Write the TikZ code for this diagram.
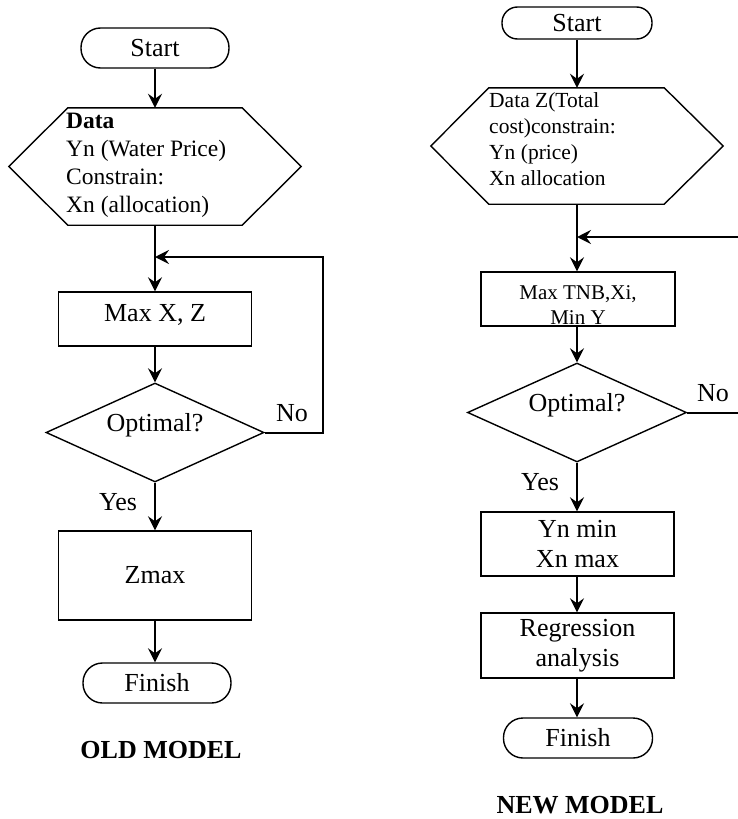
\documentclass[tikz,border=0pt]{standalone}
\usepackage{fontspec}
\setmainfont{Liberation Serif}
\usetikzlibrary{arrows.meta,shapes.geometric}
\begin{document}
\begin{tikzpicture}[x=1pt,y=-1pt,
  boxline/.style={draw,line width=1.4pt},
  box/.style={boxline,inner sep=0pt,align=center,font=\fontsize{26}{30}\selectfont},
  term/.style={box,rounded corners=19.5pt,minimum height=40pt},
  dia/.style={boxline,diamond,aspect=2.2,inner sep=0pt,minimum width=218pt,minimum height=99pt},
  txt/.style={inner sep=0pt,align=center,font=\fontsize{26}{30}\selectfont},
  arr/.style={line width=2pt,-{Stealth[length=14pt,width=14pt,inset=5pt]}}
]
\useasboundingbox (0,0) rectangle (738,819);
\clip (0,0) rectangle (738,819);

% ---------------- OLD MODEL ----------------
\node[term,minimum width=148pt] (start1) at (155,48) {Start};
\node[inner sep=0pt,minimum width=292pt,minimum height=117pt] (hex1) at (155,166.5) {};
\draw[boxline,line join=miter] ([xshift=59pt]hex1.north west) -- ([xshift=-59pt]hex1.north east) -- (hex1.east)
  -- ([xshift=-59pt]hex1.south east) -- ([xshift=59pt]hex1.south west) -- (hex1.west) -- cycle;
\node[anchor=west,inner sep=0pt,align=left,font=\fontsize{23.5}{28}\selectfont] (hex1t) at (66,165)
  {\textbf{Data}\\Yn (Water Price)\\Constrain:\\Xn (allocation)};
\coordinate (j1) at (155,257);
\node[box,minimum width=193pt,minimum height=54pt] (max1) at (155,319) {};
\node[txt] (max1t) at (155,315) {Max X, Z};
\node[dia] (dia1) at (155,432.5) {};
\node[txt] (dia1t) at (155,425) {Optimal?};
\node[txt] (no1) at (292,413) {No};
\node[txt] (yes1) at (118,502) {Yes};
\node[box,minimum width=193pt,minimum height=89pt] (zmax1) at (155,575.5) {Zmax};
\node[term,minimum width=148pt] (fin1) at (157,683) {Finish};
\node[txt,font=\fontsize{26}{30}\selectfont\bfseries] (old) at (161,750) {OLD MODEL};

\draw[arr] (start1) -- (hex1);
\draw[arr] (hex1) -- (max1);
\draw[arr] (max1) -- (dia1);
\draw[arr] (dia1.east) -- (323,432.5) |- (j1);
\draw[arr] (dia1) -- (zmax1);
\draw[arr] (zmax1.south) -- (zmax1.south |- fin1.north);

% ---------------- NEW MODEL ----------------
\node[term,minimum width=150pt,minimum height=32pt,rounded corners=15.5pt] (start2) at (577,23) {Start};
\node[inner sep=0pt,minimum width=292pt,minimum height=116pt] (hex2) at (577,146) {};
\draw[boxline,line join=miter] ([xshift=58pt]hex2.north west) -- ([xshift=-59pt]hex2.north east) -- (hex2.east)
  -- ([xshift=-59pt]hex2.south east) -- ([xshift=58pt]hex2.south west) -- (hex2.west) -- cycle;
\node[anchor=west,inner sep=0pt,align=left,font=\fontsize{21.5}{26}\selectfont] (hex2t) at (489,139.5)
  {Data Z(Total\\cost)constrain:\\Yn (price)\\Xn allocation};
\coordinate (j2) at (577,237);
\node[box,minimum width=194pt,minimum height=54pt] (max2) at (578,299) {};
\node[txt,font=\fontsize{21}{25}\selectfont] (max2t) at (578,305) {Max TNB,Xi,\\Min Y};
\node[dia,minimum width=219pt] (dia2) at (577,412.5) {};
\node[txt] (dia2t) at (577,405) {Optimal?};
\node[txt] (no2) at (713,393) {No};
\node[txt] (yes2) at (540,482) {Yes};
\node[box,minimum width=193pt,minimum height=64pt] (yn2) at (577.5,544) {Yn min\\Xn max};
\node[box,minimum width=193pt,minimum height=65pt] (reg2) at (577.5,645.5) {Regression\\analysis};
\node[term,minimum width=149pt] (fin2) at (578,738) {Finish};
\node[txt,font=\fontsize{26}{30}\selectfont\bfseries] (new) at (580,805) {NEW MODEL};

\draw[arr] (start2) -- (hex2);
\draw[arr] (hex2.south -| j2) -- (j2 |- max2.north);
\draw[arr] (j2 |- max2.south) -- (dia2);
\draw[arr] (dia2.east) -- (750,412.5) |- (j2);
\draw[arr] (dia2) -- (dia2 |- yn2.north);
\draw[arr] (yn2.south -| j2) -- (j2 |- reg2.north);
\draw[arr] (reg2.south -| j2) -- (j2 |- fin2.north);
\end{tikzpicture}
\end{document}
